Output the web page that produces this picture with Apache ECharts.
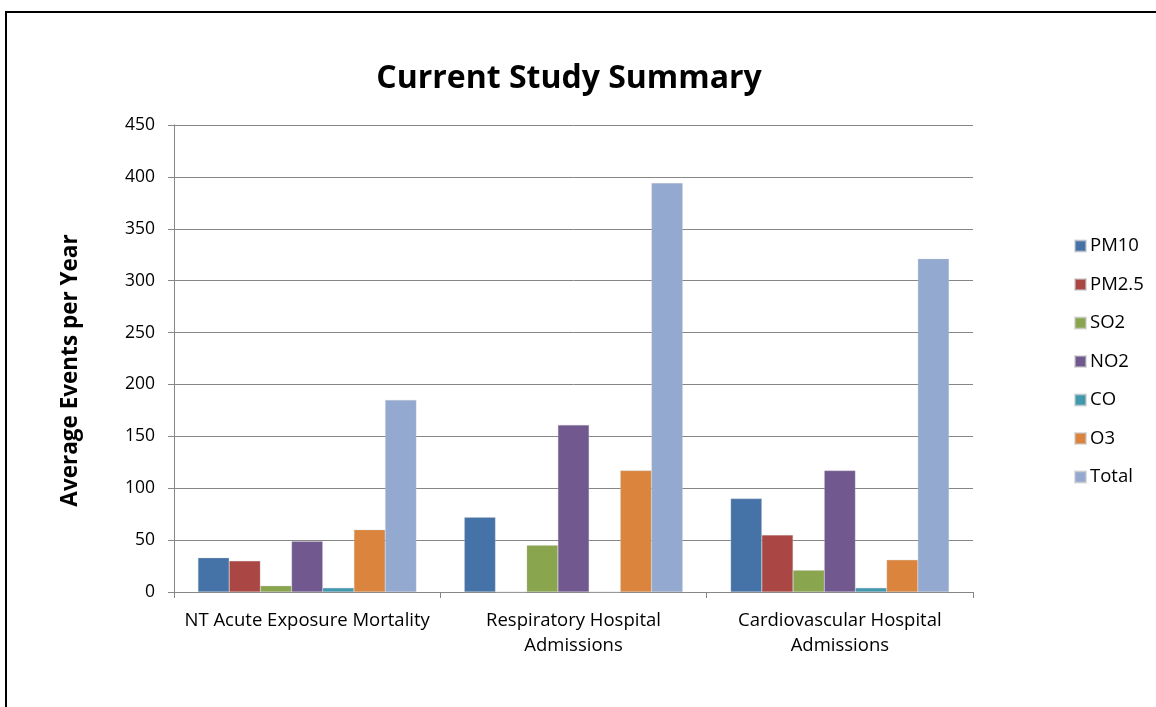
<!DOCTYPE html>
<html>
<head>
<meta charset="utf-8">
<style>
  html, body { margin: 0; padding: 0; background: #fff; }
  #chart { width: 1156px; height: 707px; }
</style>
<script src="https://cdn.jsdelivr.net/npm/echarts@6/dist/echarts.min.js"></script>
</head>
<body>
<div id="chart"></div>
<script>
// Health outcome categories on the x axis
const categories = [
  'NT Acute Exposure Mortality',
  'Respiratory Hospital\nAdmissions',
  'Cardiovascular Hospital\nAdmissions'
];

// Average events per year attributed to each pollutant
const pm10  = [33, 72, 90];
const pm25  = [30, 0, 55];
const so2   = [6, 45, 21];
const no2   = [49, 161, 117];
const co    = [4, 0, 4];
const o3    = [60, 117, 31];
const total = [185, 394, 321];

const seriesNames = ['PM10', 'PM2.5', 'SO2', 'NO2', 'CO', 'O3', 'Total'];
const seriesData  = [pm10, pm25, so2, no2, co, o3, total];
const colors = ['#4572A7', '#AA4643', '#89A54E', '#71588F', '#4198AF', '#DB843D', '#93A9CF'];

const FONT = 'Open Sans';

const chart = echarts.init(document.getElementById('chart'), null, { renderer: 'canvas' });

chart.setOption({
  animation: false,
  backgroundColor: '#ffffff',
  color: colors,
  title: {
    text: 'Current Study Summary',
    left: 564,
    top: 58,
    textAlign: 'center',
    textStyle: { fontFamily: FONT, fontSize: 32, fontWeight: 'bold', color: '#000' }
  },
  graphic: [{
    type: 'rect',
    shape: { x: 6, y: 12, width: 1300, height: 900 },
    style: { fill: 'none', stroke: '#000', lineWidth: 2 },
    silent: true
  }],
  legend: {
    orient: 'vertical',
    left: 1074,
    top: 234,
    padding: 0,
    itemGap: 14.5,
    itemWidth: 11,
    itemHeight: 11,
    icon: 'rect',
    textStyle: { fontFamily: FONT, fontSize: 18.5, color: '#000', padding: [0, 0, 0, -1], lineHeight: 24 },
    data: seriesNames
  },
  grid: { left: 174, right: 183, top: 125, bottom: 115, containLabel: false },
  xAxis: {
    type: 'category',
    data: categories,
    axisLine: { lineStyle: { color: '#868686', width: 1 } },
    axisTick: { show: true, length: 6, lineStyle: { color: '#868686' } },
    axisLabel: { interval: 0, fontFamily: FONT, fontSize: 18.5, color: '#000', margin: 16, lineHeight: 25 }
  },
  yAxis: {
    type: 'value',
    min: 0,
    max: 450,
    interval: 50,
    name: 'Average Events per Year',
    nameLocation: 'middle',
    nameGap: 92,
    nameTextStyle: { fontFamily: FONT, fontSize: 22.5, fontWeight: 'bold', color: '#000', padding: [0, 24, 0, 0] },
    axisLine: { show: true, lineStyle: { color: '#868686', width: 1 } },
    axisTick: { show: true, length: 6, lineStyle: { color: '#868686' } },
    axisLabel: { fontFamily: FONT, fontSize: 17.5, color: '#000', margin: 19 },
    splitLine: { lineStyle: { color: '#868686', width: 1 } }
  },
  series: seriesNames.map((name, i) => ({
    name: name,
    type: 'bar',
    data: seriesData[i],
    barGap: '0%',
    barCategoryGap: '18%',
    itemStyle: { color: colors[i], borderColor: 'rgba(200,200,200,0.6)', borderWidth: 0.5 }
  }))
});
</script>
</body>
</html>
